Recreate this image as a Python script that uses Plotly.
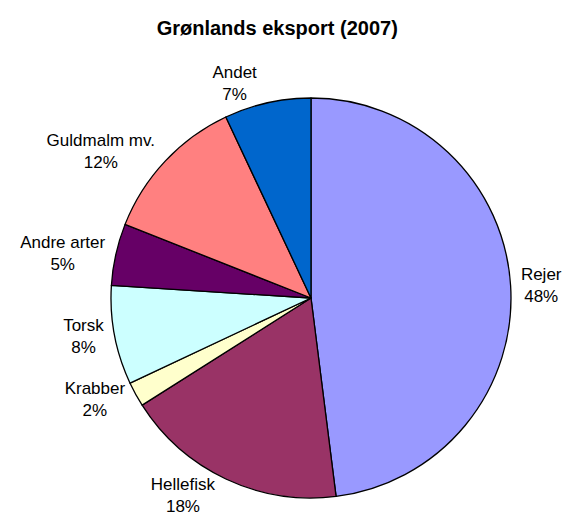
import plotly.graph_objects as go

labels = ["Rejer", "Hellefisk", "Krabber", "Torsk", "Andre arter", "Guldmalm mv.", "Andet"]
values = [48, 18, 2, 8, 5, 12, 7]
colors = ["#9999FF", "#993366", "#FFFFCC", "#CCFFFF", "#660066", "#FF8080", "#0066CC"]

fig = go.Figure(go.Pie(
    labels=labels,
    values=values,
    sort=False,
    direction="clockwise",
    rotation=0,
    marker=dict(colors=colors, line=dict(color="black", width=1.3)),
    textposition="outside",
    texttemplate="%{label}<br>%{percent:.0%}",
    textfont=dict(family="Liberation Sans, Arial, sans-serif", size=17, color="black"),
    automargin=False,
    showlegend=False,
    hoverinfo="label+percent",
))

fig.update_layout(
    width=567,
    height=532,
    margin=dict(l=111, r=56, t=98, b=34),
    paper_bgcolor="white",
    plot_bgcolor="white",
    title=dict(
        text="<b>Grønlands eksport (2007)</b>",
        x=0.489, xref="container", xanchor="center",
        y=0.947, yref="container", yanchor="middle",
        font=dict(family="Liberation Sans, Arial, sans-serif", size=20, color="black"),
    ),
)

fig.write_html(
    "out.html",
    config={"displayModeBar": False},
    post_script="document.body.style.margin='0';",
)
